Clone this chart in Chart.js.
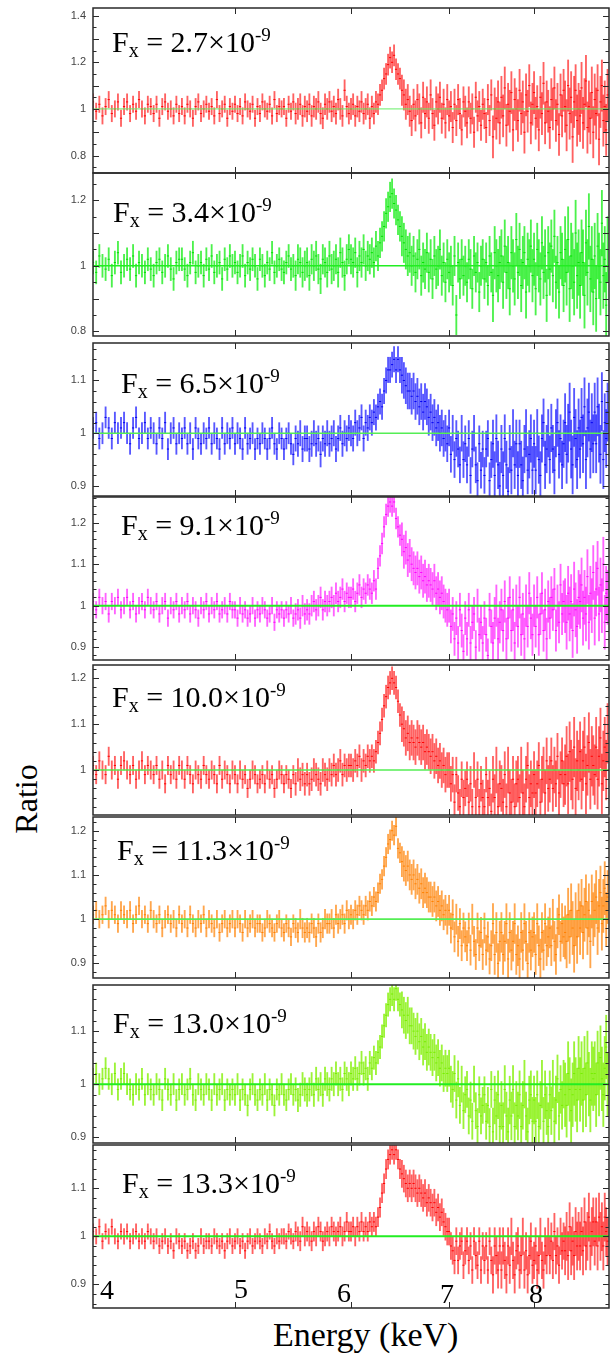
<!DOCTYPE html>
<html>
<head>
<meta charset="utf-8">
<script src="https://cdn.jsdelivr.net/npm/chart.js@4.4.1/dist/chart.umd.min.js"></script>
<style>
  body { margin: 0; background: #fff; }
  #page { position: relative; width: 614px; height: 1354px; overflow: hidden; font-family: "Liberation Serif", serif; }
  #page canvas { position: absolute; left: 0; }
  .fx { position: absolute; font-size: 30px; line-height: 30px; white-space: nowrap; color: #000; }
  .fx .sub { font-size: 20px; position: relative; top: 5px; }
  .fx .sup { font-size: 19px; position: relative; top: -11px; }
  .elab { position: absolute; font-size: 28px; line-height: 28px; color: #000; }
  #xtitle { position: absolute; left: 273px; top: 1318px; font-size: 34px; line-height: 34px; white-space: nowrap; }
  #ytitle { position: absolute; left: 26px; top: 799px; font-size: 32px; line-height: 32px; transform: translate(-50%, -50%) rotate(-90deg); white-space: nowrap; }
</style>
</head>
<body>
<div id="page">
  <div id="xtitle">Energy (keV)</div>
  <div id="ytitle">Ratio</div>
</div>
<script>
// energy bins (keV), shared by all panels
const energy = [
  4.00,4.02,4.04,4.06,4.08,4.10,4.12,4.14,4.16,4.18,
  4.20,4.22,4.24,4.26,4.28,4.30,4.32,4.34,4.36,4.38,
  4.40,4.42,4.44,4.46,4.48,4.50,4.52,4.54,4.56,4.58,
  4.60,4.62,4.64,4.66,4.68,4.70,4.72,4.74,4.76,4.78,
  4.80,4.82,4.84,4.86,4.88,4.90,4.92,4.94,4.96,4.98,
  5.00,5.02,5.04,5.06,5.08,5.10,5.12,5.14,5.16,5.18,
  5.20,5.22,5.24,5.26,5.28,5.30,5.32,5.34,5.36,5.38,
  5.40,5.42,5.44,5.46,5.48,5.50,5.52,5.54,5.56,5.58,
  5.60,5.62,5.64,5.66,5.68,5.70,5.72,5.74,5.76,5.78,
  5.80,5.82,5.84,5.86,5.88,5.90,5.92,5.94,5.96,5.98,
  6.00,6.02,6.04,6.06,6.08,6.10,6.12,6.14,6.16,6.18,
  6.20,6.22,6.24,6.26,6.28,6.30,6.32,6.34,6.36,6.38,
  6.40,6.42,6.44,6.46,6.48,6.50,6.52,6.54,6.56,6.58,
  6.60,6.62,6.64,6.66,6.68,6.70,6.72,6.74,6.76,6.78,
  6.80,6.82,6.84,6.86,6.88,6.90,6.92,6.94,6.96,6.98,
  7.00,7.02,7.04,7.06,7.08,7.10,7.12,7.14,7.16,7.18,
  7.20,7.22,7.24,7.26,7.28,7.30,7.32,7.34,7.36,7.38,
  7.40,7.42,7.44,7.46,7.48,7.50,7.52,7.54,7.56,7.58,
  7.60,7.62,7.64,7.66,7.68,7.70,7.72,7.74,7.76,7.78,
  7.80,7.82,7.84,7.86,7.88,7.90,7.92,7.94,7.96,7.98,
  8.00,8.02,8.04,8.06,8.08,8.10,8.12,8.14,8.16,8.18,
  8.20,8.22,8.24,8.26,8.28,8.30,8.32,8.34,8.36,8.38,
  8.40,8.42,8.44,8.46,8.48,8.50,8.52,8.54,8.56,8.58,
  8.60,8.62,8.64,8.66,8.68,8.70,8.72,8.74,8.76,8.78,
  8.80,8.82,8.84,8.86,8.88,8.90,8.92,8.94,8.96,8.98
];

// energy band edges for the error sizes (<5.5, 5.5-6.5, 6.5-7.5, 7.5-8.4, >8.4)
const errEdges = [5.5, 6.5, 7.5, 8.4];

const fluxLabels = ['2.7', '3.4', '6.5', '9.1', '10.0', '11.3', '13.0', '13.3'];
const xTickValues = [5, 6, 7, 8];
const xTickLabels = ['4', '5', '6', '7', '8'];

// each pN array: (ratio - 1) in percent, one value per energy bin

// Fx = 2.7e-9
const p1Pct = [
  3,-1,2,-3,1,4,-2,0,3,-4,
  1,3,-2,2,-1,4,0,-3,2,1,
  -2,2,-4,1,3,-1,0,-3,2,-2,
  1,-3,2,0,-4,1,3,-2,0,2,
  -1,1,-3,4,-2,0,2,-4,1,-1,
  2,-2,1,-3,3,0,-1,2,-4,1,
  -2,3,0,-1,2,-3,4,-2,1,0,
  1,-4,2,-1,3,-2,0,2,-3,1,
  -1,2,-3,1,0,3,-2,-4,2,0,
  3,-1,1,-2,4,0,-3,8,1,-2,
  0,2,-3,1,-1,3,-2,0,2,-4,
  1,-2,3,2,6,8,13,15,19,22,
  20,23,17,15,13,8,6,2,4,-1,
  -5,2,-3,4,0,-6,5,-2,3,-4,
  6,-2,-7,3,0,5,-4,2,-6,4,
  -3,1,-8,2,-5,4,-2,-9,3,-1,
  -6,3,-4,0,-10,5,-3,1,-7,2,
  -2,-8,4,-5,6,-12,0,-4,3,-6,
  5,-3,9,-7,2,-1,7,-9,4,0,
  -5,8,-2,3,-10,6,-1,10,-6,2,
  7,-4,1,-9,5,-2,11,-6,3,-1,
  -8,4,0,9,-5,2,-11,6,-3,8,
  1,-7,10,-2,5,-12,3,8,-5,0,
  -3,9,-6,2,12,-8,1,-4,7,-10,
  4,-2,8,-13,3,10,-5,1,-9,6
];
const p1Err = [0.035, 0.045, 0.065, 0.09, 0.11];

// Fx = 3.4e-9
const p2Pct = [
  1,-2,3,0,-1,2,-3,1,4,-2,
  0,2,-1,3,-3,1,0,-2,2,-1,
  -3,1,2,-2,0,3,-1,-4,1,2,
  2,-1,-3,1,4,-2,0,1,-3,2,
  -1,3,-2,0,1,-4,2,-1,3,0,
  1,-2,0,3,-3,1,-1,2,0,-4,
  2,0,-3,1,-1,4,-2,0,2,-1,
  -2,1,3,-1,0,-3,2,1,-2,0,
  1,-3,2,0,3,-1,-4,2,1,-2,
  3,-1,0,2,-2,4,1,-3,2,5,
  2,1,4,-2,3,1,5,0,3,2,
  4,1,6,3,7,9,12,16,18,21,
  22,19,17,14,12,9,7,5,3,4,
  0,3,-2,2,5,-3,1,-1,4,-2,
  2,-4,3,-1,0,5,-3,1,-5,2,
  -2,0,-6,3,-15,1,-4,2,-3,0,
  -5,2,-1,-7,3,-2,1,-8,0,2,
  -4,1,-6,3,-2,-9,4,0,-3,1,
  3,-5,6,-2,1,-7,4,0,-4,8,
  -2,5,-6,1,4,-8,2,0,6,-3,
  2,-7,5,0,-4,7,-2,3,-9,4,
  -1,6,-3,9,-5,1,-8,4,2,-6,
  5,-2,8,-7,3,0,-5,10,-3,1,
  -6,4,1,-9,7,-2,12,-4,2,-8,
  3,-10,6,0,-5,13,-3,2,-12,5
];
const p2Err = [0.035, 0.045, 0.06, 0.08, 0.10];

// Fx = 6.5e-9
const p3Pct = [
  1,2,-1,0,3,1,-1,2,0,1,
  2,0,-2,1,3,-1,0,2,-1,1,
  0,-2,1,-1,2,-3,0,1,-2,0,
  -1,1,-2,0,-3,1,-1,-2,0,-1,
  1,-2,0,-1,-3,1,-2,0,-1,1,
  -2,0,-1,-3,1,-2,-1,0,-3,-1,
  -2,0,-1,-3,-1,1,-2,-3,0,-1,
  -3,-1,0,-2,-4,-1,-2,0,-3,-1,
  -1,-3,-2,0,-2,-1,-4,-1,-2,0,
  -2,-1,0,-3,-1,1,-2,0,-1,1,
  0,-1,2,0,1,3,-1,2,1,3,
  2,4,3,5,6,5,8,10,12,12,
  13,14,12,14,12,11,10,9,8,8,
  7,8,6,7,5,6,4,6,5,3,
  4,2,3,1,2,0,1,-1,0,-2,
  1,-4,0,-5,-1,-3,-6,0,-5,-2,
  -6,-1,-8,-3,0,-6,-9,-2,-7,-3,
  -8,-3,-1,-9,-5,-2,-8,-1,-6,-10,
  -3,-8,-1,-6,-11,-3,-7,0,-6,-2,
  -8,-2,-6,-9,-3,0,-7,-4,-1,-7,
  -2,-7,0,-5,-8,-1,2,-6,-3,0,
  -5,1,-3,-7,0,2,-4,-1,-6,-2,
  2,-4,0,4,-3,-6,3,-1,-5,1,
  -3,3,-2,5,-5,1,4,-3,2,-2,
  4,-2,5,0,-4,6,-5,2,-1,4
];
const p3Err = [0.02, 0.024, 0.034, 0.045, 0.055];

// Fx = 9.1e-9
const p4Pct = [
  1,-1,2,0,1,-2,1,0,2,-1,
  0,2,-1,1,-2,0,1,-1,2,0,
  -1,1,-2,0,1,-3,0,-1,1,-2,
  0,-1,1,-2,0,-1,-3,0,-1,1,
  -2,0,-1,1,-2,-1,0,-2,1,-1,
  -1,-3,0,-2,-1,-3,-2,0,-3,-1,
  -2,0,-1,-3,-2,0,-4,-1,-2,-1,
  -3,-1,-2,0,-3,-2,-1,-3,0,-2,
  -1,-2,0,1,-1,0,2,-1,1,0,
  1,2,0,3,1,2,4,1,3,2,
  2,4,1,3,5,2,4,3,5,4,
  3,6,4,9,12,15,19,22,24,25,
  24,25,21,19,17,16,13,14,11,12,
  10,9,8,9,7,8,6,7,5,6,
  5,4,6,3,4,2,3,1,0,-1,
  0,-5,-2,-8,-3,-9,-1,-6,-11,-3,
  -8,-1,-9,-4,-2,-10,0,-7,-4,-9,
  -3,-7,-12,-1,-5,-9,-3,0,-8,-4,
  -1,-6,1,-8,-3,2,-6,-1,-9,0,
  -5,2,-7,-2,-8,0,-5,3,-3,-7,
  0,-5,2,-7,-2,3,-6,-1,-8,1,
  -3,2,-1,4,-6,0,-4,5,-2,1,
  0,-4,3,-2,1,-6,4,-1,-5,2,
  1,5,-3,2,-2,7,-4,3,0,8,
  -3,4,9,-2,5,0,10,-4,3,2
];
const p4Err = [0.02, 0.025, 0.04, 0.05, 0.065];

// Fx = 10.0e-9
const p5Pct = [
  1,-1,2,0,-1,3,0,1,-2,1,
  2,0,-1,1,-2,0,2,-1,1,0,
  -1,1,-2,0,-3,1,-1,0,-2,1,
  0,-2,1,-1,-3,0,-1,-2,1,-1,
  -2,0,-1,-3,1,-2,0,-1,-3,0,
  -1,-3,0,-2,-1,-4,-2,0,-1,-3,
  -2,-1,-3,0,-2,-1,-4,-2,0,-1,
  -3,-1,-2,-4,-1,-3,0,-2,-1,-3,
  -1,-3,-2,0,-1,-2,-3,0,-1,-2,
  0,-1,1,-1,0,2,-1,1,0,1,
  1,0,2,1,3,0,2,1,3,2,
  3,2,4,6,8,11,14,16,18,19,
  20,19,18,15,12,10,9,7,8,6,
  7,6,5,7,6,5,6,4,5,4,
  3,4,2,3,1,2,0,1,-1,0,
  0,-3,-1,-7,-1,-5,-8,-2,-6,-4,
  -2,-7,-3,-8,0,-6,-2,-8,-3,-6,
  -8,-1,-6,-4,-9,-2,-6,0,-8,-3,
  -4,-7,-1,-8,0,-5,-7,-2,-8,-3,
  -2,-6,0,-5,-8,-2,1,-6,-3,-5,
  -1,-5,-3,1,-7,-2,0,-5,2,-4,
  -2,2,-4,0,-3,3,-5,-1,2,-3,
  -1,3,-3,4,0,-2,5,-4,2,0,
  4,-2,2,5,-3,1,6,-2,3,1,
  -1,5,-2,3,7,-3,2,5,0,8
];
const p5Err = [0.02, 0.025, 0.038, 0.05, 0.065];

// Fx = 11.3e-9
const p6Pct = [
  1,2,0,1,3,0,2,1,-1,2,
  1,0,2,-1,1,3,0,1,-1,2,
  0,-1,1,-2,0,1,-1,0,-2,1,
  -1,0,-2,1,-1,-2,0,-1,1,-2,
  0,-1,-2,0,-3,-1,0,-2,-1,0,
  -2,0,-1,-3,0,-2,-1,0,-2,-1,
  -1,-3,-2,0,-1,-2,-3,-1,0,-2,
  -3,-1,-2,-4,-1,-2,-3,0,-2,-3,
  -2,-3,-1,-2,-4,-1,-3,-2,0,-1,
  -1,0,-2,1,-1,0,1,-1,2,0,
  1,0,2,1,3,2,1,3,2,4,
  3,5,4,6,8,9,12,14,17,18,
  20,19,21,16,15,13,12,11,12,10,
  9,10,8,9,7,8,6,7,6,5,
  5,4,5,3,4,2,3,1,2,0,
  2,-2,1,-4,0,-5,-1,-6,-2,-4,
  -6,-2,-7,0,-5,-8,-2,-6,-3,-8,
  -2,-7,-4,-9,-6,-1,-8,-3,-10,-5,
  -3,-8,-5,-1,-9,-3,-7,-5,-1,-8,
  -6,-9,-3,-7,-1,-5,-10,-3,-7,-4,
  -3,-8,-1,-6,-9,-3,-7,-1,-6,-4,
  -2,-6,0,-5,-8,-2,1,-5,-1,-4,
  -3,-5,1,-4,2,-2,-6,0,-4,2,
  -2,3,-3,1,4,-2,2,-5,4,0,
  2,5,-2,3,6,-1,3,7,0,5
];
const p6Err = [0.02, 0.022, 0.034, 0.045, 0.06];

// Fx = 13.0e-9
const p7Pct = [
  1,2,0,1,3,1,0,2,-1,1,
  2,0,-1,-2,0,-1,1,-2,0,-1,
  -2,0,-1,-3,1,-1,-2,0,-3,-1,
  0,-2,-1,1,-2,-3,0,-1,-2,0,
  -1,-3,0,-2,-1,0,-3,-1,-2,-1,
  -2,0,-3,-1,-2,-4,-1,0,-2,-3,
  -1,-2,0,-3,-1,-2,-4,-1,-2,0,
  -2,-3,-1,0,-2,-1,-3,-2,0,-1,
  -2,-1,0,-2,1,-1,0,-2,1,0,
  -1,1,0,2,0,1,-1,2,1,0,
  2,1,3,1,2,4,2,3,1,4,
  3,5,4,6,7,9,11,13,15,16,
  17,16,18,16,15,14,13,12,13,11,
  11,10,9,10,8,9,7,8,6,7,
  6,5,6,4,5,3,4,2,3,2,
  3,0,-1,2,-3,1,-4,0,-5,-2,
  -1,-6,-3,-7,0,-5,-8,-2,-6,-4,
  -2,-7,-4,-8,-1,-9,-3,-6,-2,-8,
  -4,-8,-1,-6,-9,-3,-6,-1,-8,-4,
  -6,-2,-8,-4,0,-6,-9,-3,-2,-7,
  -3,-7,-2,-8,-4,0,-7,-2,-5,-8,
  -2,-5,0,-7,-3,1,-6,-1,-4,0,
  -2,-4,2,-1,-5,-2,2,-1,-3,3,
  -1,2,-3,3,-2,4,0,-3,2,1,
  2,-2,4,0,5,1,-2,3,7,0
];
const p7Err = [0.02, 0.022, 0.034, 0.045, 0.06];

// Fx = 13.3e-9
const p8Pct = [
  1,0,2,-1,1,0,2,0,-1,1,
  0,1,-1,0,1,-1,0,-1,1,0,
  -1,0,-2,-1,0,-2,-1,-3,0,-1,
  -2,-1,-3,-2,-1,-3,-2,0,-2,-1,
  -1,-2,0,-1,-2,-1,-3,-1,0,-2,
  -1,0,-2,-1,-3,-1,0,-2,-1,0,
  -1,-2,0,-1,1,-1,-2,0,-1,0,
  0,-1,1,0,-1,1,0,-1,2,0,
  1,0,-1,1,0,2,1,-1,0,1,
  0,2,1,0,1,2,0,1,3,1,
  1,2,0,2,1,3,1,2,1,3,
  2,3,2,4,6,9,11,14,16,17,
  18,17,18,16,14,13,12,11,10,11,
  10,11,10,9,10,9,8,9,7,8,
  7,6,7,5,6,4,5,3,2,1,
  1,-2,-3,-5,-1,-5,-2,-1,-6,-3,
  -1,-5,-2,-7,-1,-4,-6,-1,-7,-2,
  -5,-2,-7,-1,-5,-8,-2,-4,-7,-2,
  -7,-2,-5,-8,-2,-6,0,-5,-8,-3,
  -2,-7,-4,0,-7,-3,-8,-4,-1,-6,
  -5,-2,-7,-4,0,-5,-7,-2,-4,0,
  -4,-1,-5,1,-4,-2,-6,0,-3,-1,
  -3,0,-4,2,-3,-1,-4,1,-2,0,
  -2,1,-3,3,-2,0,4,-2,1,3,
  -1,3,-2,4,0,2,-2,4,1,-1
];
const p8Err = [0.016, 0.02, 0.028, 0.038, 0.05];

// panel layout: frame top/bottom in page pixels, y range, tick steps, label spot
const panels = [
  { pct: p1Pct, err: p1Err, bar: 'rgba(255,0,0,0.62)', dot: '#ff0000', one: '#66ee66', oneW: 1,
    top: 8, bottom: 173, ymin: 0.725, ymax: 1.433, minor: 0.05, labels: [1.4, 1.2, 1, 0.8], fx: [112, 27] },
  { pct: p2Pct, err: p2Err, bar: 'rgba(0,235,0,0.7)', dot: '#00e000', one: '#22ee22', oneW: 1.6,
    top: 173, bottom: 336, ymin: 0.786, ymax: 1.283, minor: 0.05, labels: [1.2, 1, 0.8], fx: [113, 197] },
  { pct: p3Pct, err: p3Err, bar: 'rgba(0,0,255,0.66)', dot: '#0000f0', one: '#55ee55', oneW: 1.6,
    top: 343, bottom: 496, ymin: 0.881, ymax: 1.171, minor: 0.02, labels: [1.1, 1, 0.9], fx: [121, 368] },
  { pct: p4Pct, err: p4Err, bar: 'rgba(255,0,255,0.62)', dot: '#ff00ff', one: '#22ee22', oneW: 2,
    top: 497, bottom: 660, ymin: 0.869, ymax: 1.262, minor: 0.02, labels: [1.2, 1.1, 1, 0.9], fx: [121, 510] },
  { pct: p5Pct, err: p5Err, bar: 'rgba(255,0,0,0.62)', dot: '#ff0000', one: '#55ee55', oneW: 1.6,
    top: 665, bottom: 815, ymin: 0.902, ymax: 1.229, minor: 0.02, labels: [1.2, 1.1, 1], fx: [112, 682] },
  { pct: p6Pct, err: p6Err, bar: 'rgba(255,128,0,0.7)', dot: '#ff8000', one: '#55ee55', oneW: 1.6,
    top: 817, bottom: 978, ymin: 0.867, ymax: 1.231, minor: 0.02, labels: [1.2, 1.1, 1, 0.9], fx: [117, 835] },
  { pct: p7Pct, err: p7Err, bar: 'rgba(128,240,0,0.78)', dot: '#77ee00', one: '#22ee22', oneW: 2,
    top: 985, bottom: 1143, ymin: 0.889, ymax: 1.187, minor: 0.02, labels: [1.1, 1, 0.9], fx: [113, 1008] },
  { pct: p8Pct, err: p8Err, bar: 'rgba(255,0,0,0.62)', dot: '#ff0000', one: '#22ee22', oneW: 2,
    top: 1145, bottom: 1308, ymin: 0.851, ymax: 1.19, minor: 0.02, labels: [1.1, 1, 0.9], fx: [122, 1168] }
];

// top-left spots of the energy numbers written inside the bottom panel
const energyLabelSpots = [[100, 1276], [234, 1275], [337, 1279], [440, 1280], [529, 1280]];

function errFor(e, errs) {
  let i = 0;
  while (i < errEdges.length && e >= errEdges[i]) i++;
  return errs[i];
}

// frame, inward ticks and the small tick numbers
const framePlugin = {
  id: 'frame',
  afterDatasetsDraw(chart, args, opts) {
    const { ctx, chartArea: a, scales } = chart;
    const xs = scales.x, ys = scales.y;
    ctx.save();
    ctx.strokeStyle = '#2a2a2a';
    ctx.lineWidth = 1.5;
    ctx.strokeRect(a.left, a.top, a.right - a.left, a.bottom - a.top);
    ctx.lineWidth = 1;
    ctx.beginPath();
    xTickValues.forEach(v => {
      const px = Math.round(xs.getPixelForValue(v)) + 0.5;
      ctx.moveTo(px, a.top); ctx.lineTo(px, a.top + 6);
      ctx.moveTo(px, a.bottom); ctx.lineTo(px, a.bottom - 6);
    });
    const k0 = Math.ceil(opts.ymin / opts.minor - 1e-6);
    const k1 = Math.floor(opts.ymax / opts.minor + 1e-6);
    for (let k = k0; k <= k1; k++) {
      const v = k * opts.minor;
      const major = Math.abs(v * 10 - Math.round(v * 10)) < 1e-6;
      const len = major ? 6 : 3.5;
      const py = Math.round(ys.getPixelForValue(v)) + 0.5;
      ctx.moveTo(a.left, py); ctx.lineTo(a.left + len, py);
      ctx.moveTo(a.right, py); ctx.lineTo(a.right - len, py);
    }
    ctx.stroke();
    ctx.fillStyle = '#444';
    ctx.font = '11px "Liberation Sans", Arial, sans-serif';
    ctx.textAlign = 'right';
    ctx.textBaseline = 'middle';
    opts.labels.forEach(v => {
      ctx.fillText(String(v), a.left - 7, ys.getPixelForValue(v));
    });
    ctx.restore();
  }
};

const page = document.getElementById('page');

panels.forEach((p, i) => {
  const pad = 6;
  const canvas = document.createElement('canvas');
  canvas.width = 614;
  canvas.height = p.bottom - p.top + 2 * pad;
  canvas.style.top = (p.top - pad) + 'px';
  page.appendChild(canvas);

  const ratio = p.pct.map(v => 1 + v / 100);
  const bars = energy.map((e, j) => {
    const d = errFor(e, p.err);
    return { x: e, y: [ratio[j] - d, ratio[j] + d] };
  });
  const dots = energy.map((e, j) => ({ x: e, y: ratio[j] }));

  new Chart(canvas, {
    type: 'bar',
    data: {
      datasets: [
        { type: 'line', data: [{ x: 4, y: 1 }, { x: 9, y: 1 }], borderColor: p.one,
          borderWidth: p.oneW, pointRadius: 0, order: 0 },
        { type: 'line', data: dots, showLine: false, pointStyle: 'line', pointRadius: 1.1,
          borderColor: p.dot, pointBorderColor: p.dot, pointBorderWidth: 1, order: 1 },
        { type: 'bar', data: bars, backgroundColor: p.bar, borderWidth: 0,
          barThickness: 1.2, order: 2 }
      ]
    },
    options: {
      responsive: false,
      animation: false,
      devicePixelRatio: 1,
      layout: { padding: { left: 93, right: 1, top: pad, bottom: pad } },
      plugins: {
        legend: { display: false },
        tooltip: { enabled: false },
        frame: { ymin: p.ymin, ymax: p.ymax, minor: p.minor, labels: p.labels }
      },
      scales: {
        x: { type: 'logarithmic', min: 4, max: 9, display: false, offset: false },
        y: { type: 'linear', min: p.ymin, max: p.ymax, display: false }
      }
    },
    plugins: [framePlugin]
  });

  const fx = document.createElement('div');
  fx.className = 'fx';
  fx.style.left = p.fx[0] + 'px';
  fx.style.top = p.fx[1] + 'px';
  fx.innerHTML = 'F<span class="sub">x</span> = ' + fluxLabels[i] + '×10<span class="sup">-9</span>';
  page.appendChild(fx);
});

xTickLabels.forEach((t, i) => {
  const d = document.createElement('div');
  d.className = 'elab';
  d.style.left = energyLabelSpots[i][0] + 'px';
  d.style.top = energyLabelSpots[i][1] + 'px';
  d.textContent = t;
  page.appendChild(d);
});
</script>
</body>
</html>
